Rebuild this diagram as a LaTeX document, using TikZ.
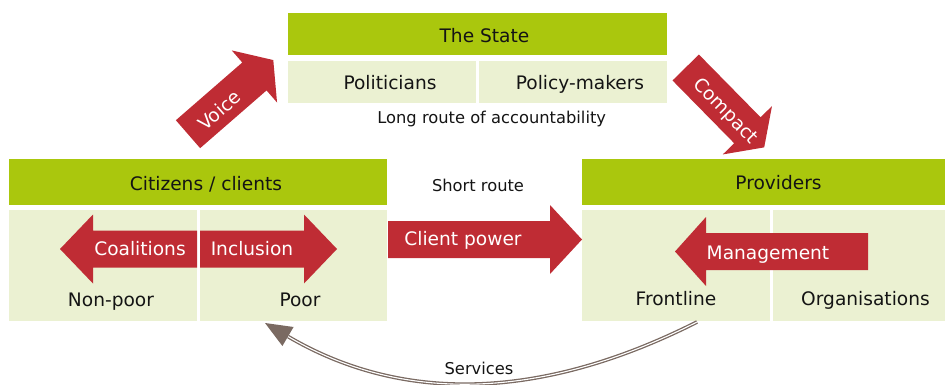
\documentclass[tikz,border=0pt]{standalone}
\usepackage{fontspec}
\setmainfont{DejaVu Sans}
\definecolor{hdrgreen}{HTML}{AAC70D}
\definecolor{cellgreen}{HTML}{EBF1D2}
\definecolor{arrowred}{HTML}{BF2C34}
\definecolor{srvbrown}{HTML}{7A6A62}
\newcommand\blockarrow[4]{\fill[arrowred, shift={#1}, rotate=#2] (0,-18.5) -- (#3,-18.5) -- (#3,-34.5) -- ({#3+#4},0) -- (#3,34.5) -- (#3,18.5) -- (0,18.5) -- cycle;}
\begin{document}
\begin{tikzpicture}[x=1pt,y=-1pt,
  box/.style={draw=none, inner sep=0pt, outer sep=0pt, anchor=north west},
  hdr/.style={box, fill=hdrgreen},
  cell/.style={box, fill=cellgreen},
  lbl/.style={anchor=base, font=\fontsize{18.6}{22}\selectfont, text=black!92, inner sep=0pt},
  smalllbl/.style={lbl, font=\fontsize{16.3}{20}\selectfont},
  wlbl/.style={lbl, text=white}]
\useasboundingbox (0,0) rectangle (945,385);

% The State
\node[hdr, minimum width=379pt, minimum height=42.5pt] (state) at (288,13) {};
\node[cell, minimum width=188pt, minimum height=42pt] (pol) at (288,61) {};
\node[cell, minimum width=188pt, minimum height=42pt] (pm) at (479,61) {};
% Citizens
\node[hdr, minimum width=378pt, minimum height=46pt] (cit) at (9,159) {};
\node[cell, minimum width=188pt, minimum height=111pt] (nonpoor) at (9,210) {};
\node[cell, minimum width=187pt, minimum height=111pt] (poor) at (200,210) {};
% Providers
\node[hdr, minimum width=363pt, minimum height=46pt] (prov) at (582,159) {};
\node[cell, minimum width=188pt, minimum height=111pt] (front) at (582,210) {};
\node[cell, minimum width=172pt, minimum height=111pt] (org) at (773,210) {};

% block arrows
\blockarrow{(188,134.2)}{41}{88}{25}
\blockarrow{(685.7,67.5)}{-45.5}{88}{24}
\blockarrow{(388,239.5)}{0}{162}{32}
\blockarrow{(868,251.5)}{180}{162}{31}
\blockarrow{(197,249)}{180}{104}{33}
\blockarrow{(200,249)}{0}{104}{33}

% services arrow
\coordinate (srvA) at (697,322);
\coordinate (srvB) at (288,336.5);
\coordinate (srvTip) at (265,323);
\draw[srvbrown, line width=1.3pt, double=white, double distance=1.1pt]
  (srvA) .. controls (545.7,398.5) and (406,405.8) .. (srvB);
\fill[srvbrown] (srvTip) -- (282.4,346) -- (293.6,327) -- cycle;

% labels
\node[lbl] (tstate) at (484.5,42.3) {The State};
\node[lbl] (tpol) at (390,89.3) {Politicians};
\node[lbl] (tpm) at (580,89.3) {Policy-makers};
\node[smalllbl] (tlong) at (491.7,123.3) {Long route of accountability};
\node[lbl] (tcit) at (206,190) {Citizens / clients};
\node[lbl] (tprov) at (778.5,189.3) {Providers};
\node[smalllbl] (tshort) at (478,191.5) {Short route};
\node[wlbl] (tcoal) at (140,255) {Coalitions};
\node[wlbl] (tincl) at (252,255) {Inclusion};
\node[lbl] (tnonpoor) at (111,306) {Non-poor};
\node[lbl] (tpoor) at (300,306) {Poor};
\node[lbl] (tfront) at (676,305.7) {Frontline};
\node[lbl] (torg) at (865.5,305.7) {Organisations};
\node[wlbl] (tclient) at (463,245) {Client power};
\node[wlbl] (tmgmt) at (768,259) {Management};
\node[wlbl, anchor=center, rotate=41] (tvoice) at (219.3,110) {Voice};
\node[wlbl, anchor=center, rotate=-45.5] (tcompact) at (725,111.7) {Compact};
\node[smalllbl] (tserv) at (479,374) {Services};
\end{tikzpicture}
\end{document}
